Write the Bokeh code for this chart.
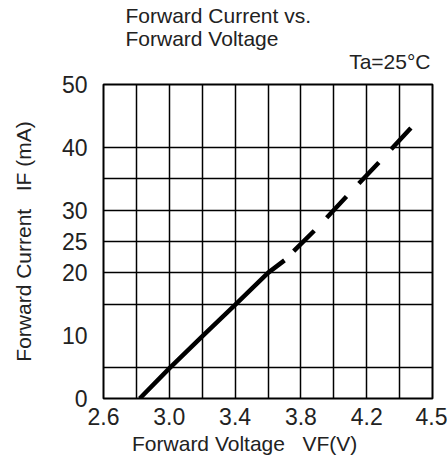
from bokeh.plotting import figure
from bokeh.models import FixedTicker, Title
from bokeh.embed import file_html
from bokeh.resources import INLINE

# ---- data ----
solid_v = [2.82, 3.0, 3.2, 3.4, 3.6, 3.7]
solid_i = [0.0, 4.8, 9.9, 14.9, 20.0, 22.0]
dash_v = [3.7, 3.9, 4.1, 4.3, 4.53]
dash_i = [22.0, 27.2, 32.8, 38.3, 44.8]

x_tick_values = [2.6, 3.0, 3.4, 3.8, 4.2, 4.6]
x_tick_labels = ["2.6", "3.0", "3.4", "3.8", "4.2", "4.5"]
y_tick_values = [0, 10, 20, 25, 30, 40, 50]
y_tick_labels = ["0", "10", "20", "25", "30", "40", "50"]
x_grid_values = [2.8, 3.0, 3.2, 3.4, 3.6, 3.8, 4.0, 4.2, 4.4]
y_grid_values = [5, 15, 20, 25, 30, 35, 40]

FONT = "Liberation Sans"
TXT = "#222222"
NB = "\u00a0"

p = figure(width=447, height=465, x_range=(2.6, 4.6), y_range=(0, 50),
           title=None, output_backend="svg", toolbar_location=None,
           min_border_left=103, min_border_right=15,
           min_border_top=84, min_border_bottom=67)

p.background_fill_color = "white"
p.border_fill_color = "white"
p.outline_line_color = "black"
p.outline_line_width = 2
p.outline_line_alpha = 1.0

for ax in (p.xaxis[0], p.yaxis[0]):
    ax.axis_line_color = None
    ax.major_tick_line_color = None
    ax.minor_tick_line_color = None
    ax.major_label_text_font = FONT
    ax.major_label_text_font_size = "23px"
    ax.major_label_text_color = TXT
    ax.axis_label_text_font = FONT
    ax.axis_label_text_font_size = "21px"
    ax.axis_label_text_font_style = "normal"
    ax.axis_label_text_color = TXT

p.xaxis.ticker = FixedTicker(ticks=x_tick_values)
p.xaxis.major_label_overrides = {v: s for v, s in zip(x_tick_values, x_tick_labels)}
p.xaxis.major_label_standoff = 3
p.xaxis.axis_label = "Forward Voltage" + NB * 3 + "VF(V)" + NB * 8
p.xaxis.axis_label_standoff = 4

p.yaxis.ticker = FixedTicker(ticks=y_tick_values)
p.yaxis.major_label_overrides = {v: s for v, s in zip(y_tick_values, y_tick_labels)}
p.yaxis.major_label_standoff = 10
p.yaxis.axis_label = "Forward Current" + NB * 3 + "IF (mA)"
p.yaxis.axis_label_standoff = 24

p.xgrid.ticker = FixedTicker(ticks=x_grid_values)
p.ygrid.ticker = FixedTicker(ticks=y_grid_values)
for g in (p.xgrid[0], p.ygrid[0]):
    g.grid_line_color = "black"
    g.grid_line_width = 1.5
    g.grid_line_alpha = 1.0

p.line(solid_v, solid_i, line_color="black", line_width=4.5)
p.line(dash_v, dash_i, line_color="black", line_width=4.5,
       line_dash="29 18", line_dash_offset=34)

# titles (first added sits closest to the plot frame)
p.add_layout(Title(text="Ta=25°C", align="right", offset=2, standoff=23,
                   text_font=FONT, text_font_size="21px",
                   text_font_style="normal", text_color=TXT), "above")
p.add_layout(Title(text="Forward Current vs.\nForward Voltage", align="left",
                   offset=22, standoff=-27,
                   text_font=FONT, text_font_size="21px",
                   text_font_style="normal", text_color=TXT), "above")

open("out.html", "w").write(file_html(p, INLINE))
